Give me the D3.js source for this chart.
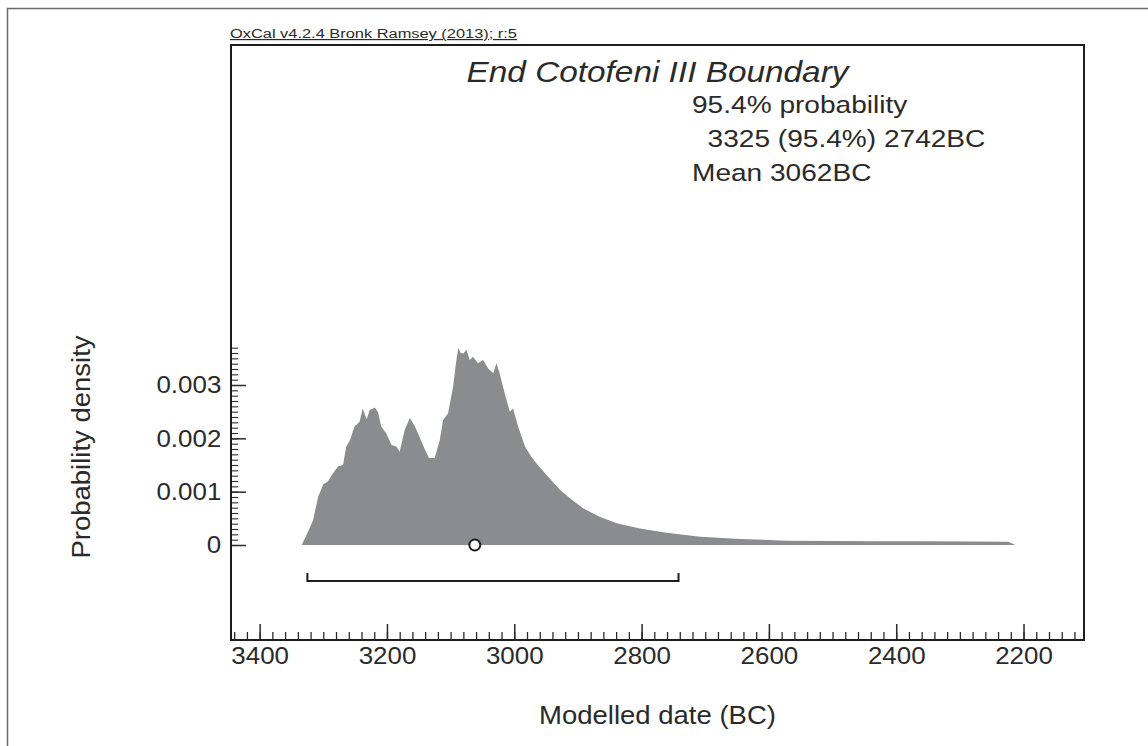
<!DOCTYPE html>
<html>
<head>
<meta charset="utf-8">
<script src="https://cdn.jsdelivr.net/npm/d3@7"></script>
<style>
  html, body { margin: 0; padding: 0; background: #fff; }
  svg { display: block; }
  text { font-family: "Liberation Sans", Arial, Helvetica, sans-serif; fill: #2a2a2a; }
</style>
</head>
<body>
<svg id="chart" width="1148" height="746"></svg>
<script>
// Posterior density of the End Cotofeni III Boundary (calendar years BC)
const years = [
  3334, 3324, 3316, 3308, 3300, 3293, 3285, 3277, 3269, 3264, 3258, 3251, 3243, 3238,
  3232, 3227, 3219, 3214, 3209, 3201, 3193, 3185, 3180, 3172, 3164, 3156, 3148, 3141,
  3134, 3125, 3117, 3112, 3104, 3096, 3092, 3088, 3084, 3080, 3075, 3070, 3065, 3057,
  3049, 3041, 3033, 3028, 3023, 3015, 3007, 3002, 2994, 2983, 2973, 2965, 2949, 2928,
  2913, 2892, 2866, 2839, 2803, 2761, 2708, 2645, 2572, 2499, 2430, 2362, 2284, 2224, 2213
];
const density = [
  0, 0.00025, 0.00047, 0.00091, 0.00114, 0.00119, 0.00134, 0.00147, 0.00150, 0.00184,
  0.00197, 0.00222, 0.00231, 0.00256, 0.00236, 0.00253, 0.00258, 0.00249, 0.00222, 0.00209,
  0.00188, 0.00184, 0.00175, 0.00216, 0.00238, 0.00222, 0.00200, 0.00181, 0.00163, 0.00163,
  0.00197, 0.00234, 0.00247, 0.00297, 0.00338, 0.00369, 0.00360, 0.00359, 0.00366, 0.00347,
  0.00353, 0.00341, 0.00347, 0.00331, 0.00322, 0.00341, 0.00322, 0.00284, 0.00250, 0.00256,
  0.00222, 0.00184, 0.00165, 0.00153, 0.00131, 0.00103, 0.00088, 0.00069, 0.00053, 0.00041,
  0.00031, 0.00023, 0.000156, 0.000113, 0.00008, 0.000075, 0.000072, 0.00007, 0.000066, 0.00006, 0
];

// 95.4% highest posterior density range and mean
const hpdRange = [3325, 2742];
const meanYear = 3062;

// Axis ticks
const xMajorTicks = [3400, 3200, 3000, 2800, 2600, 2400, 2200];
const yMajorTicks = [0, 0.001, 0.002, 0.003];

// Annotation text
const creditText = "OxCal v4.2.4 Bronk Ramsey (2013); r:5";
const titleText = "End Cotofeni III Boundary";
const probLines = ["95.4% probability", "  3325 (95.4%) 2742BC"];
const meanText = "Mean 3062BC";
const xTitle = "Modelled date (BC)";
const yTitle = "Probability density";

const svg = d3.select("#chart");
const box = { left: 231, right: 1084, top: 45, bottom: 640 };

const x = d3.scaleLinear().domain([3445, 2105]).range([box.left, box.right]);
const y = d3.scaleLinear().domain([0, 0.003]).range([545, 385]);

// Outer page frame (top and left edges)
svg.append("path")
  .attr("d", "M7.5,746 L7.5,8.5 L1148,8.5")
  .attr("fill", "none").attr("stroke", "#6a6a6a").attr("stroke-width", 1.5);

// Filled density curve
const pts = years.map((yr, i) => [yr, density[i]]);
const area = d3.area()
  .x(d => x(d[0]))
  .y0(y(0))
  .y1(d => y(d[1]));
svg.append("path")
  .datum(pts)
  .attr("d", area)
  .attr("fill", "#8b8c90");

// Helper: text with a slight horizontal stretch
function label(px, py, txt, size, sx, anchor, extra) {
  const t = svg.append("text")
    .attr("transform", `translate(${px},${py}) scale(${sx},1)`)
    .attr("text-anchor", anchor || "start")
    .style("font-size", size + "px")
    .text(txt);
  if (extra) extra(t);
  return t;
}

// X axis: major and minor ticks pointing up into the plot
const xMinor = d3.range(3440, 2100, -20);
svg.append("g")
  .attr("transform", `translate(0,${box.bottom})`)
  .call(d3.axisBottom(x).tickValues(xMinor).tickSizeInner(-8).tickSizeOuter(0).tickFormat(""))
  .call(g => g.select(".domain").remove())
  .call(g => g.selectAll("line").attr("stroke", "#2a2a2a").attr("stroke-width", 1.3));

svg.append("g")
  .attr("transform", `translate(0,${box.bottom})`)
  .call(d3.axisBottom(x).tickValues(xMajorTicks).tickSizeInner(-16).tickSizeOuter(0)
    .tickPadding(7).tickFormat(d3.format("d")))
  .call(g => g.select(".domain").remove())
  .call(g => g.selectAll("line").attr("stroke", "#2a2a2a").attr("stroke-width", 1.5))
  .call(g => g.selectAll("text")
    .attr("fill", "#2a2a2a")
    .style("font-size", "24px")
    .style("font-family", "'Liberation Sans', Arial, sans-serif")
    .attr("transform", "scale(1.08,1)"));

// Y axis: minor ticks every 0.0001 and labelled majors
const yMinor = d3.range(0, 38).map(i => i / 10000);
svg.append("g")
  .attr("transform", `translate(${box.left},0)`)
  .call(d3.axisLeft(y).tickValues(yMinor).tickSizeInner(-7).tickSizeOuter(0).tickFormat(""))
  .call(g => g.select(".domain").remove())
  .call(g => g.selectAll("line").attr("stroke", "#2a2a2a").attr("stroke-width", 1.1));

svg.append("g")
  .attr("transform", `translate(${box.left},0)`)
  .call(d3.axisLeft(y).tickValues(yMajorTicks).tickSizeInner(-15).tickSizeOuter(0)
    .tickPadding(9).tickFormat(d => d === 0 ? "0" : d3.format(".3f")(d)))
  .call(g => g.select(".domain").remove())
  .call(g => g.selectAll("line").attr("stroke", "#2a2a2a").attr("stroke-width", 1.5))
  .call(g => g.selectAll("text")
    .attr("fill", "#2a2a2a")
    .style("font-size", "24px")
    .style("font-family", "'Liberation Sans', Arial, sans-serif")
    .attr("transform", "scale(1.08,1)"));

// Plot frame
svg.append("rect")
  .attr("x", box.left).attr("y", box.top)
  .attr("width", box.right - box.left).attr("height", box.bottom - box.top)
  .attr("fill", "none").attr("stroke", "#1e1e1e").attr("stroke-width", 2);

// 95.4% range bracket
const by = 581;
svg.append("path")
  .attr("d", `M${x(hpdRange[0])},${by - 8} L${x(hpdRange[0])},${by} L${x(hpdRange[1])},${by} L${x(hpdRange[1])},${by - 8}`)
  .attr("fill", "none").attr("stroke", "#1e1e1e").attr("stroke-width", 2);

// Mean marker
svg.append("circle")
  .attr("cx", x(meanYear)).attr("cy", y(0)).attr("r", 5.5)
  .attr("fill", "#fff").attr("stroke", "#1e1e1e").attr("stroke-width", 2);

// Texts
svg.append("text")
  .attr("x", 230).attr("y", 38)
  .attr("textLength", 287).attr("lengthAdjust", "spacingAndGlyphs")
  .attr("fill", "#333")
  .style("font-size", "12px")
  .style("text-decoration", "underline")
  .text(creditText);
label((box.left + box.right) / 2, 82, titleText, 29, 1.15, "middle", t => t.style("font-style", "italic"));
label(692, 113, probLines[0], 24, 1.17);
label(692, 147, probLines[1], 24, 1.17, "start", t => t.attr("xml:space", "preserve").style("white-space", "pre"));
label(692, 181, meanText, 24, 1.17);
label((box.left + box.right) / 2, 724, xTitle, 25, 1.1, "middle");
svg.append("text")
  .attr("transform", `translate(90,447) rotate(-90) scale(1.1,1)`)
  .attr("text-anchor", "middle")
  .style("font-size", "25px")
  .text(yTitle);
</script>
</body>
</html>
